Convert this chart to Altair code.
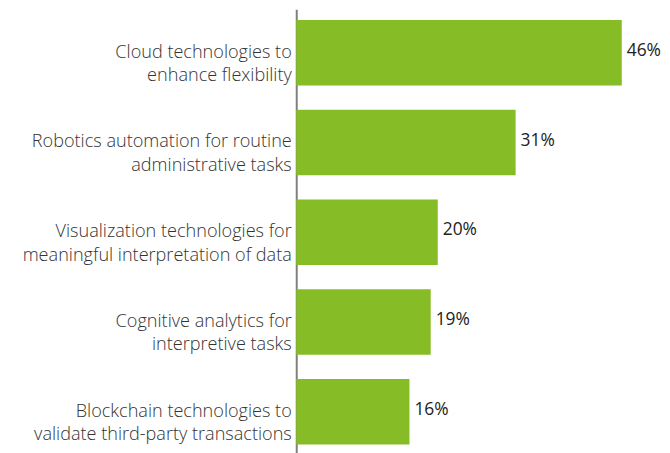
import altair as alt
import pandas as pd

categories = [
    "Cloud technologies to|enhance flexibility",
    "Robotics automation for routine|administrative tasks",
    "Visualization technologies for|meaningful interpretation of data",
    "Cognitive analytics for|interpretive tasks",
    "Blockchain technologies to|validate third-party transactions",
]
values = [46, 31, 20, 19, 16]
value_labels = ["46%", "31%", "20%", "19%", "16%"]

df = pd.DataFrame({"label": categories, "value": values, "pct": value_labels})

FONT = "Open Sans"

base = alt.Chart(df).encode(
    y=alt.Y(
        "label:N",
        sort=None,
        title=None,
        scale=alt.Scale(paddingInner=0.27, paddingOuter=0.1185),
        axis=alt.Axis(
            labelExpr="split(datum.value, '|')",
            labelFont=FONT,
            labelFontSize=18.2,
            labelFontWeight=300,
            labelColor="#333333",
            labelLineHeight=23.5,
            labelPadding=5,
            labelLimit=300,
            ticks=False,
            domainColor="#7f7f7f",
            domainWidth=2,
            grid=False,
        ),
    )
)

bars = base.mark_bar(color="#86BC25").encode(
    x=alt.X("value:Q", scale=alt.Scale(domain=[0, 50]), axis=None)
)

text = base.mark_text(
    align="left", baseline="middle", dx=5, dy=-2, fontSize=17.5, fontWeight=400,
    font=FONT, color="#222222"
).encode(x=alt.X("value:Q"), text="pct:N")

chart = (
    alt.layer(bars, text)
    .properties(
        width=356,
        height=448.6,
        autosize=alt.AutoSizeParams(type="none"),
        padding={"left": 290, "top": 0, "right": 12, "bottom": 0},
    )
    .configure_view(stroke=None)
)

chart.save("out.html", embed_options={"renderer": "svg", "actions": False})
